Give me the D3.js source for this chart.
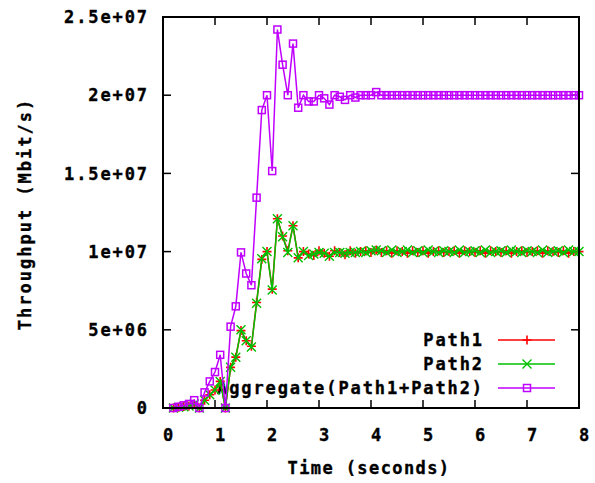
<!DOCTYPE html>
<html>
<head>
<meta charset="utf-8">
<script src="https://cdn.jsdelivr.net/npm/d3@7"></script>
<style>
  html, body { margin: 0; padding: 0; background: #fff; }
  svg text { font-family: "DejaVu Sans Mono", "Liberation Mono", monospace; font-weight: bold; fill: #000; stroke: #000; stroke-width: 0.35px; }
</style>
</head>
<body>
<svg id="chart" width="595" height="483"></svg>
<script>
// ---- data (throughput values in units of 1e6 Mbit/s) ----
const UNIT = 1e6;
const times = [
  0.2,0.3,0.4,0.5,0.6,0.7,0.8,0.9,1.0,1.1,1.2,1.3,1.4,1.5,1.6,1.7,1.8,1.9,2.0,2.1,
  2.2,2.3,2.4,2.5,2.6,2.7,2.8,2.9,3.0,3.1,3.2,3.3,3.4,3.5,3.6,3.7,3.8,3.9,4.0,4.1,
  4.2,4.3,4.4,4.5,4.6,4.7,4.8,4.9,5.0,5.1,5.2,5.3,5.4,5.5,5.6,5.7,5.8,5.9,6.0,6.1,
  6.2,6.3,6.4,6.5,6.6,6.7,6.8,6.9,7.0,7.1,7.2,7.3,7.4,7.5,7.6,7.7,7.8,7.9,8.0
];
const path1 = [
  0.0,0.04,0.09,0.13,0.25,0.0,0.5,0.85,1.15,1.7,0.0,2.6,3.25,4.95,4.3,3.95,6.75,9.5,10.0,7.6,
  12.1,11.0,10.05,11.65,9.6,10.0,9.85,9.75,10.05,9.9,9.7,10.05,9.95,9.8,10.05,9.9,10.0,10.05,9.95,10.1,
  9.95,10.05,9.9,10.05,10.0,9.9,10.05,9.95,10.05,9.9,10.0,10.05,9.95,10.0,10.05,9.9,10.05,10.0,9.95,10.05,
  9.9,10.05,10.0,9.95,10.05,9.9,10.0,10.05,9.95,10.0,10.05,9.9,10.05,10.0,9.95,10.05,9.9,10.0,10.0
];
const path2 = [
  0.0,0.04,0.08,0.13,0.25,0.0,0.5,0.85,1.15,1.7,0.0,2.6,3.25,5.0,4.3,3.9,6.7,9.55,10.0,7.55,
  12.1,10.95,9.95,11.65,9.6,10.0,9.75,9.85,9.95,9.9,9.7,9.95,9.95,9.9,9.95,9.95,10.0,9.95,10.05,10.1,
  10.05,9.95,10.1,9.95,10.0,10.1,9.95,10.05,9.95,10.1,10.0,9.95,10.05,10.0,9.95,10.1,9.95,10.0,10.05,9.95,
  10.1,9.95,10.0,10.05,9.95,10.1,10.0,9.95,10.05,10.0,9.95,10.1,9.95,10.0,10.05,9.95,10.1,10.0,10.0
];
const aggregate = [
  0.0,0.08,0.17,0.26,0.5,0.0,1.0,1.7,2.3,3.4,0.0,5.2,6.5,9.95,8.6,7.85,13.45,19.05,20.0,15.15,
  24.2,21.95,20.0,23.3,19.2,20.0,19.6,19.6,20.0,19.8,19.4,20.0,19.9,19.7,20.0,19.85,20.0,20.0,20.0,20.2,
  20.0,20.0,20.0,20.0,20.0,20.0,20.0,20.0,20.0,20.0,20.0,20.0,20.0,20.0,20.0,20.0,20.0,20.0,20.0,20.0,
  20.0,20.0,20.0,20.0,20.0,20.0,20.0,20.0,20.0,20.0,20.0,20.0,20.0,20.0,20.0,20.0,20.0,20.0,20.0
];
const xTicks = [0,1,2,3,4,5,6,7,8];
const yTicks = [0, 5e6, 1e7, 1.5e7, 2e7, 2.5e7];
const yTickLabels = ["0","5e+06","1e+07","1.5e+07","2e+07","2.5e+07"];
const seriesNames = ["Path1","Path2","Aggregate(Path1+Path2)"];
const seriesColors = ["#ff0000","#00c000","#c000ff"];
const seriesMarkers = ["plus","cross","square"];
const xTitle = "Time (seconds)";
const yTitle = "Throughput (Mbit/s)";

// ---- layout ----
const svg = d3.select("#chart");
const L = 163, R = 579, T = 17, B = 408;
const x = d3.scaleLinear().domain([0, 8]).range([L, R]);
const y = d3.scaleLinear().domain([0, 2.5e7]).range([B, T]);

svg.append("rect").attr("width", 595).attr("height", 483).attr("fill", "#fff");

const fontSize = 17;
const ls = "1.9px";

// y tick labels
svg.append("g").selectAll("text").data(yTicks).join("text")
  .attr("x", L - 14).attr("y", d => y(d))
  .attr("dy", "0.36em")
  .attr("text-anchor", "end")
  .style("font-size", fontSize + "px").style("letter-spacing", ls)
  .text((d, i) => yTickLabels[i]);

// x tick labels
svg.append("g").selectAll("text").data(xTicks).join("text")
  .attr("x", d => x(d) + 5).attr("y", 441)
  .attr("text-anchor", "middle")
  .style("font-size", fontSize + "px")
  .text(d => d);

// titles
svg.append("text").attr("x", 369).attr("y", 474).attr("text-anchor", "middle")
  .style("font-size", fontSize + "px").style("letter-spacing", "1.4px").text(xTitle);
svg.append("text").attr("transform", "translate(31,214) rotate(-90)").attr("text-anchor", "middle")
  .style("font-size", fontSize + "px").style("letter-spacing", "2.0px").text(yTitle);

// ticks (inward, mirrored)
const tk = 8;
const tg = svg.append("g").attr("stroke", "#000").attr("stroke-width", 1.5);
xTicks.forEach(t => {
  tg.append("line").attr("x1", x(t)).attr("x2", x(t)).attr("y1", B).attr("y2", B - tk);
  tg.append("line").attr("x1", x(t)).attr("x2", x(t)).attr("y1", T).attr("y2", T + tk);
});
yTicks.forEach(v => {
  tg.append("line").attr("x1", L).attr("x2", L + tk).attr("y1", y(v)).attr("y2", y(v));
  tg.append("line").attr("x1", R).attr("x2", R - tk).attr("y1", y(v)).attr("y2", y(v));
});

// markers
function drawMarker(g, type, cx, cy, color) {
  const s = 4.5;
  if (type === "plus") {
    g.append("path").attr("d", `M${cx - s},${cy}H${cx + s}M${cx},${cy - s}V${cy + s}`)
      .attr("stroke", color).attr("stroke-width", 1.6).attr("fill", "none");
  } else if (type === "cross") {
    g.append("path").attr("d", `M${cx - s},${cy - s}L${cx + s},${cy + s}M${cx - s},${cy + s}L${cx + s},${cy - s}`)
      .attr("stroke", color).attr("stroke-width", 1.4).attr("fill", "none");
  } else {
    g.append("rect").attr("x", cx - 3.5).attr("y", cy - 3.5).attr("width", 7).attr("height", 7)
      .attr("stroke", color).attr("stroke-width", 1.5).attr("fill", "none");
  }
}

// legend (text drawn before data so data overlays it)
const legY = [340, 364, 388];
const lg = svg.append("g");
seriesNames.forEach((n, i) => {
  lg.append("text").attr("x", 484).attr("y", legY[i]).attr("dy", "0.36em")
    .attr("text-anchor", "end").style("font-size", fontSize + "px").style("letter-spacing", ls).text(n);
  lg.append("line").attr("x1", 498).attr("x2", 555).attr("y1", legY[i]).attr("y2", legY[i])
    .attr("stroke", seriesColors[i]).attr("stroke-width", 1.5);
  drawMarker(lg, seriesMarkers[i], 527, legY[i], seriesColors[i]);
});

// data
const allSeries = [path1, path2, aggregate];
const line = d3.line().x(d => x(d[0])).y(d => y(d[1] * UNIT));
allSeries.forEach((vals, i) => {
  const pts = times.map((t, k) => [t, vals[k]]);
  const g = svg.append("g");
  g.append("path").attr("d", line(pts)).attr("fill", "none")
    .attr("stroke", seriesColors[i]).attr("stroke-width", 1.5);
  pts.forEach(p => drawMarker(g, seriesMarkers[i], x(p[0]), y(p[1] * UNIT), seriesColors[i]));
});

// border
svg.append("rect").attr("x", L).attr("y", T).attr("width", R - L).attr("height", B - T)
  .attr("fill", "none").attr("stroke", "#000").attr("stroke-width", 2);
</script>
</body>
</html>
